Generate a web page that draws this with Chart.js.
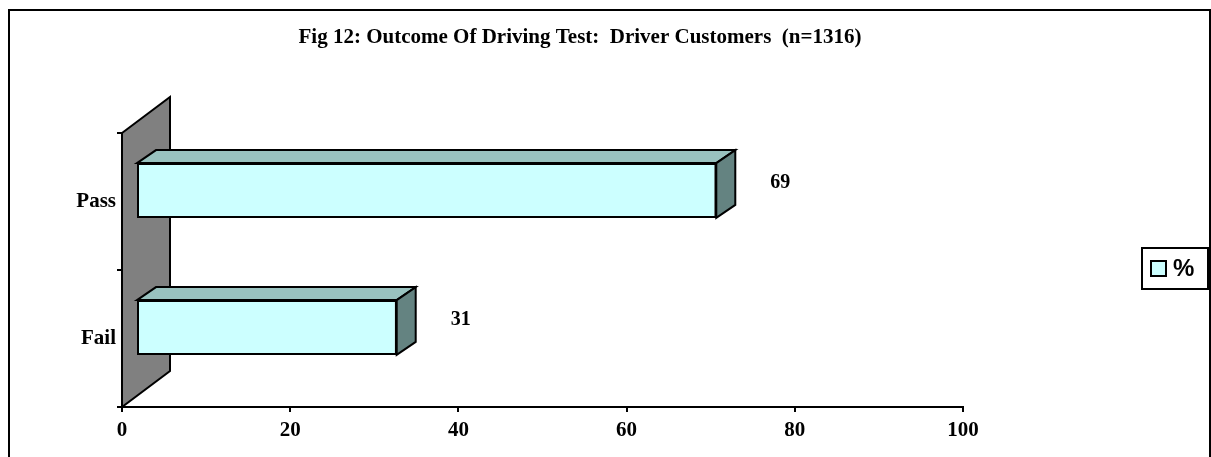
<!DOCTYPE html>
<html>
<head>
<meta charset="utf-8">
<script src="https://cdn.jsdelivr.net/npm/chart.js@4"></script>
<style>
  html, body { margin: 0; padding: 0; background: #fff; }
  #wrap { width: 1211px; height: 457px; }
</style>
</head>
<body>
<div id="wrap"><canvas id="chart"></canvas></div>
<script>
const categories = ["Pass", "Fail"];
const percent = [69, 31];
const xTicks = [0, 20, 40, 60, 80, 100];
const seriesName = "%";
const titleText = "Fig 12: Outcome Of Driving Test:  Driver Customers  (n=1316)";

const serif = "'Liberation Serif', 'Times New Roman', serif";
const BAR_SHIFT = { x: 14, y: -11 }; // bars sit a bit into the depth
const BAR_DEPTH = { x: 19, y: -13 };
const WALL_DEPTH = { x: 48, y: -36 };

// gray back wall, 3D faces on the bars, value labels, legend, title and outer frame
const excel3d = {
  id: "excel3d",
  beforeDraw(chart) {
    const ctx = chart.ctx;
    ctx.save();
    ctx.strokeStyle = "#000";
    ctx.lineWidth = 2;
    ctx.strokeRect(9, 10, 1201, 460);
    // title is centred on the whole frame, not on the plot
    ctx.font = "bold 21px " + serif;
    ctx.fillStyle = "#000";
    ctx.textAlign = "center";
    ctx.textBaseline = "middle";
    ctx.fillText(titleText, 580, 38);
    ctx.restore();
  },
  beforeDatasetsDraw(chart) {
    const ctx = chart.ctx;
    const a = chart.chartArea;
    const x0 = chart.scales.x.getPixelForValue(0);
    ctx.save();
    ctx.beginPath();
    ctx.moveTo(x0, a.top);
    ctx.lineTo(x0 + WALL_DEPTH.x, a.top + WALL_DEPTH.y);
    ctx.lineTo(x0 + WALL_DEPTH.x, a.bottom + WALL_DEPTH.y);
    ctx.lineTo(x0, a.bottom);
    ctx.closePath();
    ctx.fillStyle = "#808080";
    ctx.fill();
    ctx.lineWidth = 2;
    ctx.strokeStyle = "#000";
    ctx.stroke();
    ctx.restore();
    ctx.save();
    ctx.translate(BAR_SHIFT.x, BAR_SHIFT.y);
  },
  afterDatasetsDraw(chart) {
    const ctx = chart.ctx;
    const meta = chart.getDatasetMeta(0);
    ctx.lineWidth = 2;
    ctx.strokeStyle = "#000";
    ctx.lineJoin = "miter";
    meta.data.forEach((bar) => {
      const p = bar.getProps(["x", "y", "base", "height"], true);
      const top = p.y - p.height / 2;
      const bottom = p.y + p.height / 2;
      const dx = BAR_DEPTH.x, dy = BAR_DEPTH.y;
      ctx.beginPath();
      ctx.moveTo(p.base, top);
      ctx.lineTo(p.base + dx, top + dy);
      ctx.lineTo(p.x + dx, top + dy);
      ctx.lineTo(p.x, top);
      ctx.closePath();
      ctx.fillStyle = "#99C2BF";
      ctx.fill();
      ctx.stroke();
      ctx.beginPath();
      ctx.moveTo(p.x, top);
      ctx.lineTo(p.x + dx, top + dy);
      ctx.lineTo(p.x + dx, bottom + dy);
      ctx.lineTo(p.x, bottom);
      ctx.closePath();
      ctx.fillStyle = "#648381";
      ctx.fill();
      ctx.stroke();
    });
    ctx.restore();

    // value labels
    ctx.save();
    ctx.font = "bold 20px " + serif;
    ctx.fillStyle = "#000";
    ctx.textAlign = "center";
    ctx.textBaseline = "middle";
    meta.data.forEach((bar, i) => {
      ctx.fillText(String(percent[i]), bar.x + BAR_SHIFT.x + 64, bar.y + BAR_SHIFT.y - 8);
    });
    ctx.restore();

    // legend box
    ctx.save();
    ctx.lineWidth = 2;
    ctx.strokeStyle = "#000";
    ctx.strokeRect(1142, 248, 66, 41);
    ctx.fillStyle = "#CCFFFF";
    ctx.fillRect(1151, 261, 15, 15);
    ctx.strokeRect(1151, 261, 15, 15);
    ctx.fillStyle = "#000";
    ctx.font = "bold 24px 'Liberation Sans', Arial, sans-serif";
    ctx.textBaseline = "middle";
    ctx.fillText(seriesName, 1173, 269);
    ctx.restore();
  }
};

const ctx = document.getElementById("chart").getContext("2d");
new Chart(ctx, {
  type: "bar",
  data: {
    labels: categories,
    datasets: [
      {
        label: seriesName,
        data: percent,
        backgroundColor: "#CCFFFF",
        borderColor: "#000",
        borderWidth: 2,
        borderSkipped: false,
        categoryPercentage: 1,
        barPercentage: 0.4,
      },
    ],
  },
  options: {
    indexAxis: "y",
    responsive: true,
    maintainAspectRatio: false,
    animation: false,
    layout: { padding: { left: 0, right: 248, top: 133, bottom: 0 } },
    scales: {
      x: {
        min: 0,
        max: 100,
        afterBuildTicks: (scale) => {
          scale.ticks = xTicks.map((v) => ({ value: v }));
        },
        afterFit: (scale) => {
          scale.height = 50;
        },
        grid: { drawOnChartArea: false, tickLength: 5, color: "#000", lineWidth: 2 },
        border: { color: "#000", width: 2 },
        ticks: { color: "#000", padding: 6, font: { family: serif, size: 21, weight: "bold" } },
      },
      y: {
        afterFit: (scale) => {
          scale.width = 122;
        },
        grid: { drawOnChartArea: false, tickLength: 5, color: "#000", lineWidth: 2 },
        border: { color: "#000", width: 2 },
        ticks: { color: "#000", padding: 1, font: { family: serif, size: 21, weight: "bold" } },
      },
    },
    plugins: {
      legend: { display: false },
      tooltip: { enabled: false },
      title: { display: false },
    },
  },
  plugins: [excel3d],
});
</script>
</body>
</html>
